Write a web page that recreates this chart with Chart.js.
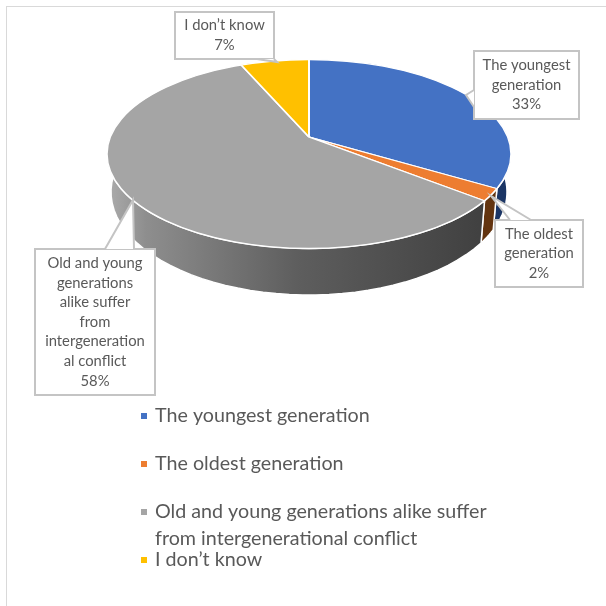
<!DOCTYPE html>
<html>
<head>
<meta charset="utf-8">
<title>Pie</title>
<script src="https://cdn.jsdelivr.net/npm/chart.js@4/dist/chart.umd.min.js"></script>
<style>
  html, body { margin: 0; padding: 0; background: #fff; }
  #frame { position: absolute; left: 6px; top: 6px; width: 600px; height: 600px;
           border-left: 1.5px solid #d9d9d9; border-top: 1.5px solid #d9d9d9; box-sizing: border-box; }
  canvas { position: absolute; left: 0; top: 0; }
</style>
</head>
<body>
<div id="frame"></div>
<canvas id="pie" width="606" height="606"></canvas>
<script>
// chart data
const categories = ['The youngest generation', 'The oldest generation',
  'Old and young generations alike suffer from intergenerational conflict', 'I don\u2019t know'];
const values = [33, 2, 58, 7];
const topColors = ['#4472c4', '#ed7d31', '#a5a5a5', '#ffc000'];
const sideColors = ['#1b3565', '#63340f', null, '#7f6000'];

// text of the callouts and the legend, wrapped like the original
const calloutLines = [['The youngest', 'generation'], ['The oldest', 'generation'],
  ['Old and young', 'generations', 'alike suffer', 'from', 'intergeneration', 'al conflict'], ['I don\u2019t know']];
const legendLines = [['The youngest generation'], ['The oldest generation'],
  ['Old and young generations alike suffer', 'from intergenerational conflict'], ['I don\u2019t know']];

// layout of the fake 3d pie
const apex = { x: 309, y: 137 };
const face = { x: 309, y: 154, rx: 202, ry: 94.5 };
const base = { x: 309, y: 192, rx: 198, ry: 103 };
const squash = 0.5;

const calloutBoxes = [
  { x: 474, y: 51, w: 105, h: 68, pointer: [[474, 90], [466, 95], [474, 107]] },
  { x: 495, y: 220, w: 88, h: 67, pointer: [[531, 220], [491, 196], [510, 220]] },
  { x: 35, y: 249, w: 120, h: 146, pointer: [[105, 249], [133, 200], [134, 249]] },
  { x: 175, y: 12, w: 99, h: 47, pointer: [[257, 59], [277, 62], [274, 59]] }
];
const legendY = [416, 464, 512, 560];

const textColor = '#595959';
const fontFamily = 'Lato, "Open Sans", sans-serif';

// where a ray from the apex hits the rim of the top face
function rimPoint(angle) {
  const dx = Math.cos(angle), dy = squash * Math.sin(angle);
  const ox = apex.x - face.x, oy = apex.y - face.y;
  const a = dx * dx / (face.rx * face.rx) + dy * dy / (face.ry * face.ry);
  const b = 2 * (ox * dx / (face.rx * face.rx) + oy * dy / (face.ry * face.ry));
  const c = ox * ox / (face.rx * face.rx) + oy * oy / (face.ry * face.ry) - 1;
  const t = (-b + Math.sqrt(b * b - 4 * a * c)) / (2 * a);
  return { x: apex.x + dx * t, y: apex.y + dy * t };
}

function basePoint(p) {
  return {
    x: base.x + (p.x - face.x) * base.rx / face.rx,
    y: base.y + (p.y - face.y) * base.ry / face.ry
  };
}

function drawWalls(ctx, arcs) {
  const grayWall = ctx.createLinearGradient(108, 0, 485, 0);
  grayWall.addColorStop(0, '#ababab');
  grayWall.addColorStop(0.1, '#8e8e8e');
  grayWall.addColorStop(0.5, '#5e5e5e');
  grayWall.addColorStop(1, '#404040');
  arcs.forEach((arc, i) => {
    const steps = 60, rim = [];
    for (let s = 0; s <= steps; s++) {
      rim.push(rimPoint(arc.startAngle + (arc.endAngle - arc.startAngle) * s / steps));
    }
    ctx.beginPath();
    rim.forEach((p, s) => s ? ctx.lineTo(p.x, p.y) : ctx.moveTo(p.x, p.y));
    rim.slice().reverse().forEach(p => {
      const q = basePoint(p);
      ctx.lineTo(q.x, q.y);
    });
    ctx.closePath();
    ctx.fillStyle = sideColors[i] || grayWall;
    ctx.fill();
    ctx.strokeStyle = '#fff';
    ctx.lineWidth = 1.5;
    ctx.stroke();
  });
}

function drawCallouts(ctx) {
  categories.forEach((name, i) => {
    const box = calloutBoxes[i];
    ctx.beginPath();
    ctx.rect(box.x, box.y, box.w, box.h);
    ctx.fillStyle = '#fff';
    ctx.strokeStyle = '#c4c4c4';
    ctx.lineWidth = 2;
    ctx.fill();
    ctx.stroke();
    ctx.beginPath();
    box.pointer.forEach((p, n) => n ? ctx.lineTo(p[0], p[1]) : ctx.moveTo(p[0], p[1]));
    ctx.fill();
    ctx.stroke();

    const lines = calloutLines[i].concat(values[i] + '%');
    const lh = 19.6;
    const top = box.y + box.h / 2 - lh * (lines.length - 1) / 2;
    ctx.fillStyle = textColor;
    ctx.font = '14.8px ' + fontFamily;
    ctx.textAlign = 'center';
    ctx.textBaseline = 'middle';
    lines.forEach((t, n) => ctx.fillText(t, box.x + box.w / 2, top + n * lh));
  });
}

function drawLegend(ctx) {
  categories.forEach((name, i) => {
    ctx.fillStyle = topColors[i];
    ctx.fillRect(141, legendY[i] - 3, 6, 6);
    ctx.fillStyle = textColor;
    ctx.font = '19.7px ' + fontFamily;
    ctx.textAlign = 'left';
    ctx.textBaseline = 'middle';
    legendLines[i].forEach((t, n) => ctx.fillText(t, 155, legendY[i] + n * 26.5));
  });
}

const pie3d = {
  id: 'pie3d',
  beforeDatasetsDraw(chart) {
    const ctx = chart.ctx;
    const arcs = chart.getDatasetMeta(0).data;
    drawWalls(ctx, arcs);
    // the arcs get squashed into the top face, with the apex off centre like in the original
    const arc = arcs[0];
    const s = 235 / arc.outerRadius;
    ctx.save();
    ctx.beginPath();
    ctx.ellipse(face.x, face.y, face.rx, face.ry, 0, 0, Math.PI * 2);
    ctx.clip();
    ctx.translate(apex.x, apex.y);
    ctx.scale(s, s * squash);
    ctx.translate(-arc.x, -arc.y);
  },
  afterDatasetsDraw(chart) {
    const ctx = chart.ctx;
    ctx.restore();
    ctx.beginPath();
    ctx.ellipse(face.x, face.y, face.rx, face.ry, 0, 0, Math.PI * 2);
    ctx.strokeStyle = '#fff';
    ctx.lineWidth = 1.5;
    ctx.stroke();
    drawCallouts(ctx);
    drawLegend(ctx);
  }
};

new Chart(document.getElementById('pie').getContext('2d'), {
  type: 'pie',
  data: {
    labels: categories,
    datasets: [{
      data: values,
      backgroundColor: topColors,
      borderColor: '#fff',
      borderWidth: 2.5,
      clip: false
    }]
  },
  options: {
    responsive: false,
    animation: false,
    plugins: {
      legend: { display: false },
      tooltip: { enabled: false }
    }
  },
  plugins: [pie3d]
});
</script>
</body>
</html>
